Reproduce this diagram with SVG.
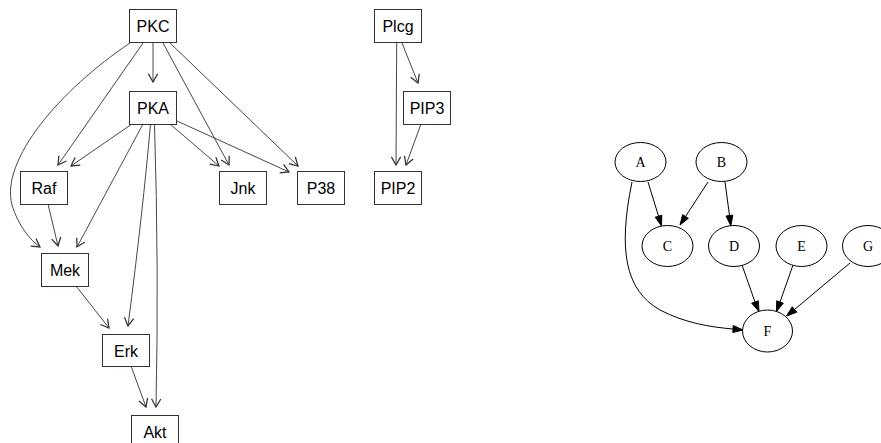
<svg xmlns="http://www.w3.org/2000/svg" width="881" height="443" viewBox="0 0 881 443">
  <style>
    .box rect { fill: #ffffff; stroke: #333333; stroke-width: 1; }
    .box text { font-family: "Liberation Sans", Arial, sans-serif; font-size: 16px; fill: #000000; text-anchor: middle; }
    .edges-r path { fill: none; stroke: #333333; stroke-width: 0.9; marker-end: url(#vhead); }
    .ell ellipse { fill: #ffffff; stroke: #000000; stroke-width: 1; }
    .ell text { font-family: "Liberation Serif", "Times New Roman", serif; font-size: 14px; fill: #000000; text-anchor: middle; }
    .edges-g path { fill: none; stroke: #000000; stroke-width: 1; }
    .edges-g polygon { fill: #000000; stroke: #000000; stroke-width: 1; }
  </style>
  <defs>
    <marker id="vhead" markerUnits="userSpaceOnUse" markerWidth="14" markerHeight="14" viewBox="-8 -5 10 10" refX="0" refY="0" orient="auto" overflow="visible">
      <path d="M-5.8,-3.3 L0,0 L-5.8,3.3" fill="none" stroke="#333333" stroke-width="0.9"/>
    </marker>
  </defs>
  <rect width="881" height="443" fill="#ffffff"/>

  <!-- signalling network connectors -->
  <g id="edges-left" class="edges-r">
    <path d="M153,43 L153,82"/>
    <path d="M143,43 L58,165"/>
    <path d="M130,43 C60,90 0,160 12,205 C18,225 30,240 40,247"/>
    <path d="M163,43 L229,165"/>
    <path d="M170,43 L298,166"/>
    <path d="M132,124 L71,166"/>
    <path d="M170,124 L219,166"/>
    <path d="M177,121 L289,172"/>
    <path d="M143,124 L77,247"/>
    <path d="M150.5,124 Q143,210 128,326"/>
    <path d="M154.5,124 Q159,270 156,407"/>
    <path d="M48,204 L58,246"/>
    <path d="M76,286 L109,328"/>
    <path d="M131,366 L146,407"/>
    <path d="M396.7,43 L396,165"/>
    <path d="M402,43 L418,83"/>
    <path d="M421,124 L406,165"/>
  </g>

  <g id="PKC" class="box"><rect x="129.5" y="9.5" width="47" height="33"/><text x="153" y="32">PKC</text></g>
  <g id="PKA" class="box"><rect x="129.5" y="91.5" width="47" height="33"/><text x="153" y="114">PKA</text></g>
  <g id="Raf" class="box"><rect x="20.5" y="171.5" width="47" height="33"/><text x="44" y="194">Raf</text></g>
  <g id="Jnk" class="box"><rect x="219.5" y="171.5" width="47" height="33"/><text x="243" y="194">Jnk</text></g>
  <g id="P38" class="box"><rect x="297.5" y="171.5" width="47" height="33"/><text x="321" y="194">P38</text></g>
  <g id="PIP2" class="box"><rect x="374.5" y="171.5" width="47" height="33"/><text x="398" y="194">PIP2</text></g>
  <g id="Plcg" class="box"><rect x="374.5" y="9.5" width="47" height="33"/><text x="398" y="32">Plcg</text></g>
  <g id="PIP3" class="box"><rect x="403.5" y="91.5" width="47" height="33"/><text x="427" y="114">PIP3</text></g>
  <g id="Mek" class="box"><rect x="41.5" y="253.5" width="47" height="33"/><text x="65" y="276">Mek</text></g>
  <g id="Erk" class="box"><rect x="102.5" y="334.5" width="47" height="32"/><text x="126" y="357">Erk</text></g>
  <g id="Akt" class="box"><rect x="131.5" y="415.5" width="47" height="33"/><text x="155" y="438">Akt</text></g>

  <!-- small DAG connectors -->
  <g id="edges-right" class="edges-g">
    <path d="M648,182 L658.5,216"/>
    <polygon points="655.2,217.2 661.5,226 661.8,215.2"/>
    <path d="M708,182 L685.5,216.5"/>
    <polygon points="682.6,214.7 680,225 688.4,218.3"/>
    <path d="M725,182 L729.5,215.5"/>
    <polygon points="726,216 730.8,225.8 732.9,215.1"/>
    <path d="M632,182 C618,250 625,290 660,310 C685,323 710,327 733,329"/>
    <polygon points="733.2,325.5 743,330 732.8,332.5"/>
    <path d="M742,265 L755,302"/>
    <polygon points="751.7,303.2 759,311.5 758.3,300.8"/>
    <path d="M793,265 L780,302"/>
    <polygon points="776.7,300.8 776.5,311.5 783.3,303.2"/>
    <path d="M850,263 L794.5,309.5"/>
    <polygon points="792.3,306.8 786.5,316 796.8,312.2"/>
  </g>

  <g id="A" class="ell"><ellipse cx="640.5" cy="162" rx="25.5" ry="19.5"/><text x="640.5" y="167">A</text></g>
  <g id="B" class="ell"><ellipse cx="721.5" cy="162" rx="25.5" ry="19.5"/><text x="721.5" y="167">B</text></g>
  <g id="C" class="ell"><ellipse cx="667.5" cy="246" rx="25.5" ry="20.5"/><text x="667.5" y="251">C</text></g>
  <g id="D" class="ell"><ellipse cx="734" cy="246" rx="25.5" ry="20.5"/><text x="734" y="251">D</text></g>
  <g id="E" class="ell"><ellipse cx="801.5" cy="246" rx="25.5" ry="20.5"/><text x="801.5" y="251">E</text></g>
  <g id="G" class="ell"><ellipse cx="868" cy="246" rx="25.5" ry="20.5"/><text x="868" y="251">G</text></g>
  <g id="F" class="ell"><ellipse cx="767.5" cy="331" rx="25" ry="21"/><text x="767.5" y="336">F</text></g>
</svg>
